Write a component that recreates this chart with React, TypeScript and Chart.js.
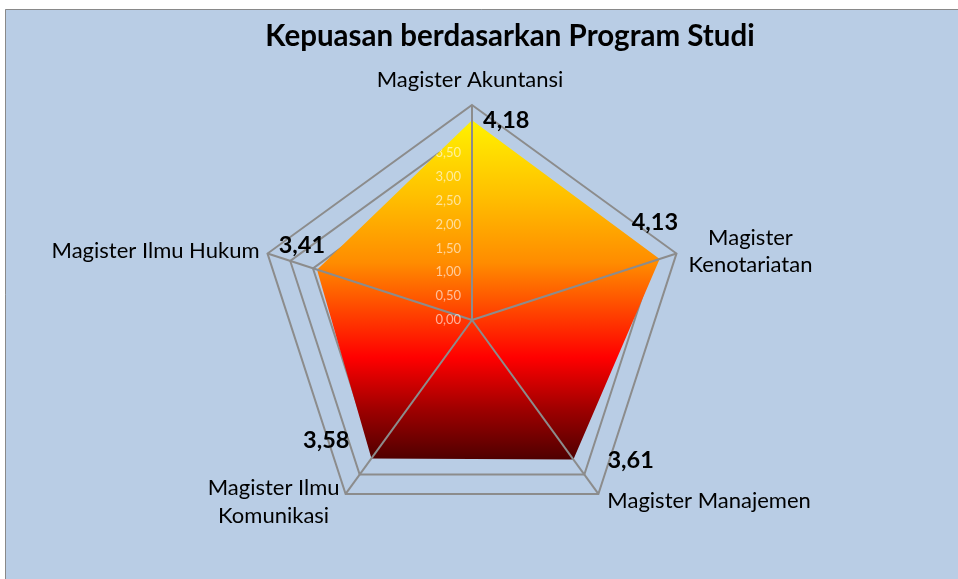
import { useEffect, useRef } from "react";
import { Chart, registerables } from "chart.js";

Chart.register(...registerables);

const TITLE = "Kepuasan berdasarkan Program Studi";
const categories: string[][] = [
  ["Magister Akuntansi"],
  ["Magister", "Kenotariatan"],
  ["Magister Manajemen"],
  ["Magister Ilmu", "Komunikasi"],
  ["Magister Ilmu Hukum"],
];
const values = [4.18, 4.13, 3.61, 3.58, 3.41];
const tickValues = [0, 0.5, 1, 1.5, 2, 2.5, 3, 3.5, 4, 4.5];
const AXIS_MIN = 0;
const AXIS_MAX = 4.5;
const AXIS_STEP = 0.5;

const fmt = (v: number) => v.toFixed(2).replace(".", ",");

const FONT = "Lato, 'Open Sans', sans-serif";
const GRID = "#8c8c8c";

// label placement relative to outer vertex (category) and to data point (value)
const catPlace = [
  { dx: -2, dy: [-18], align: "center" },
  { dx: 74, dy: [-9, 18], align: "center" },
  { dx: 9, dy: [14], align: "left" },
  { dx: -72, dy: [1, 29], align: "center" },
  { dx: -8, dy: [4], align: "right" },
];
const valPlace = [
  { dx: 11, dy: 8, align: "left" },
  { dx: -28, dy: -29, align: "left" },
  { dx: 34, dy: 8, align: "left" },
  { dx: -22, dy: -10, align: "right" },
  { dx: 8, dy: -17, align: "right" },
];

const decorPlugin = {
  id: "decor",
  beforeDraw(chart: any) {
    const { ctx, width, height } = chart;
    ctx.save();
    ctx.fillStyle = "#ffffff";
    ctx.fillRect(0, 0, width, height);
    ctx.fillStyle = "#b9cde5";
    ctx.fillRect(5, 9, width, height);
    ctx.strokeStyle = "#898989";
    ctx.lineWidth = 1;
    ctx.beginPath();
    ctx.moveTo(5.5, height);
    ctx.lineTo(5.5, 9.5);
    ctx.lineTo(width, 9.5);
    ctx.stroke();
    ctx.restore();
  },
  afterDatasetsDraw(chart: any) {
    const { ctx } = chart;
    const scale = chart.scales.r;
    ctx.save();
    // spokes over the fill
    ctx.strokeStyle = GRID;
    ctx.lineWidth = 2;
    for (let i = 0; i < categories.length; i++) {
      const p = scale.getPointPositionForValue(i, AXIS_MAX);
      ctx.beginPath();
      ctx.moveTo(scale.xCenter, scale.yCenter);
      ctx.lineTo(p.x, p.y);
      ctx.stroke();
    }
    // tick labels, visible over the filled area only
    ctx.beginPath();
    values.forEach((v, i) => {
      const p = scale.getPointPositionForValue(i, v);
      if (i === 0) ctx.moveTo(p.x, p.y);
      else ctx.lineTo(p.x, p.y);
    });
    ctx.closePath();
    ctx.clip();
    ctx.font = `13px ${FONT}`;
    ctx.fillStyle = "rgba(255,255,255,0.6)";
    ctx.textAlign = "right";
    ctx.textBaseline = "middle";
    for (const t of tickValues) {
      const p = scale.getPointPositionForValue(0, t);
      ctx.fillText(fmt(t), p.x - 11, p.y);
    }
    ctx.restore();
  },
  afterDraw(chart: any) {
    const { ctx } = chart;
    const scale = chart.scales.r;
    ctx.save();
    ctx.fillStyle = "#000000";
    ctx.textBaseline = "alphabetic";
    // title
    ctx.font = `bold 29.5px ${FONT}`;
    ctx.textAlign = "center";
    ctx.fillText(TITLE, 510, 46);
    // category labels
    ctx.font = `22px ${FONT}`;
    categories.forEach((lines, i) => {
      const p = scale.getPointPositionForValue(i, AXIS_MAX);
      const pl = catPlace[i];
      ctx.textAlign = pl.align;
      lines.forEach((ln, j) => ctx.fillText(ln, p.x + pl.dx, p.y + pl.dy[j]));
    });
    // value labels
    ctx.font = `bold 23.5px ${FONT}`;
    values.forEach((v, i) => {
      const p = scale.getPointPositionForValue(i, v);
      const pl = valPlace[i];
      ctx.textAlign = pl.align;
      ctx.fillText(fmt(v), p.x + pl.dx, p.y + pl.dy);
    });
    ctx.restore();
  },
};

function fireGradient(context: any) {
  const chart = context.chart;
  const scale = chart.scales.r;
  if (!chart.chartArea || !scale) return "#ff6000";
  let top = Infinity;
  let bottom = -Infinity;
  values.forEach((v, i) => {
    const p = scale.getPointPositionForValue(i, v);
    top = Math.min(top, p.y);
    bottom = Math.max(bottom, p.y);
  });
  const g = chart.ctx.createLinearGradient(0, top, 0, bottom);
  g.addColorStop(0, "#fff200");
  g.addColorStop(0.22, "#ffc000");
  g.addColorStop(0.42, "#ff8c00");
  g.addColorStop(0.7, "#ff0000");
  g.addColorStop(0.85, "#a00000");
  g.addColorStop(1, "#4f0000");
  return g;
}

export default function App() {
  const ref = useRef<HTMLCanvasElement | null>(null);
  useEffect(() => {
    if (!ref.current) return;
    const chart = new Chart(ref.current, {
      type: "radar",
      data: {
        labels: categories,
        datasets: [
          {
            data: values,
            backgroundColor: fireGradient,
            borderWidth: 0,
            borderColor: "rgba(0,0,0,0)",
            fill: true,
            pointRadius: 0,
            pointHoverRadius: 0,
          },
        ],
      },
      options: {
        animation: false,
        responsive: false,
        devicePixelRatio: 1,
        events: [],
        layout: { padding: { left: 257, right: 271, top: 105, bottom: 44 } },
        plugins: {
          legend: { display: false },
          title: { display: false },
          tooltip: { enabled: false },
        },
        elements: { line: { tension: 0 } },
        scales: {
          r: {
            min: AXIS_MIN,
            max: AXIS_MAX,
            ticks: { display: false, stepSize: AXIS_STEP },
            pointLabels: { display: false },
            angleLines: { display: false },
            grid: { circular: false, color: GRID, lineWidth: 2 },
          },
        },
      },
      plugins: [decorPlugin],
    } as any);
    return () => chart.destroy();
  }, []);
  return (
    <div style={{ position: "fixed", left: 0, top: 0, width: 958, height: 579 }}>
      <canvas ref={ref} width={958} height={579} style={{ width: 958, height: 579, display: "block" }} />
    </div>
  );
}
